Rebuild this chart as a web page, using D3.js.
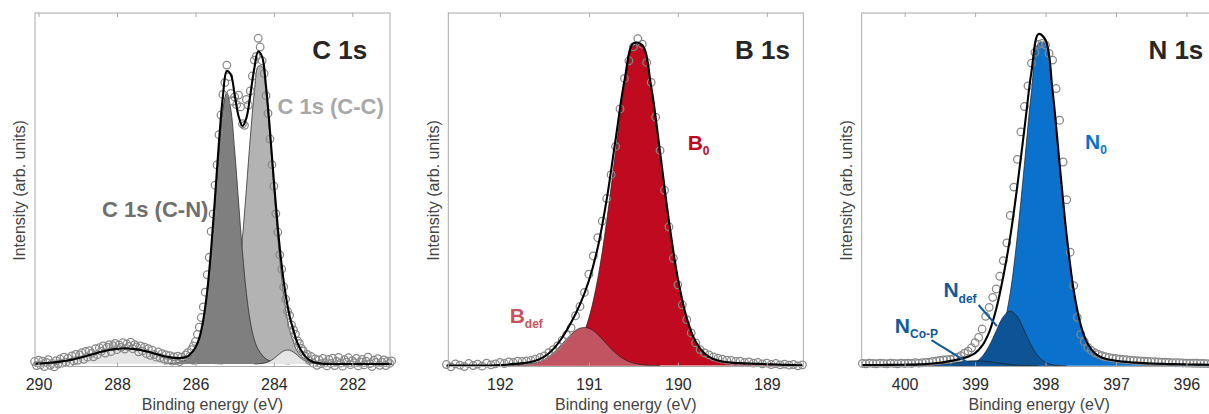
<!DOCTYPE html>
<html>
<head>
<meta charset="utf-8">
<script src="https://cdn.jsdelivr.net/npm/d3@7"></script>
<style>
  html, body { margin: 0; padding: 0; background: #fff; }
  svg { display: block; font-family: "Liberation Sans", Arial, Helvetica, sans-serif; }
</style>
</head>
<body>
<svg id="chart" width="1209" height="414"></svg>
<script>
// ---------------------------------------------------------------
// Measured XPS spectra: one value every DATA_STEP eV, starting at
// the given binding energy and going down in energy.
// ---------------------------------------------------------------
const DATA_STEP = 0.05;
const FIT_STEP = 0.1;

const c1sStart = 290.10;
const c1sCounts = [
  0.8, -0.5, 1.2, -0.3, 0.9, -0.8, 0.5, 1.4, -0.4, 0.2,
  -0.9, 1.1, 0.0, 1.6, 0.3, 2.2, 0.6, 1.9, 0.4, 2.6,
  1.0, 3.1, 1.2, 2.9, 3.6, 1.5, 4.0, 2.2, 4.3, 3.4,
  2.3, 4.9, 3.0, 5.2, 4.1, 5.8, 3.5, 5.4, 6.2, 4.0,
  5.9, 6.6, 4.6, 6.1, 5.3, 6.8, 4.8, 6.4, 5.6, 7.0,
  4.9, 6.2, 5.5, 3.9, 5.8, 4.2, 5.4, 3.3, 4.9, 2.8,
  4.4, 3.0, 2.2, 3.9, 2.0, 3.3, 1.6, 2.9, 1.4, 2.7,
  0.9, 2.3, 1.1, 2.5, 0.8, 2.2, 1.3, 2.9, 3.6, 2.4,
  4.6, 5.8, 7.2, 9.5, 11.8, 14.9, 18.3, 23.0, 28.6, 34.2,
  42.5, 48.1, 57.3, 63.8, 73.5, 79.8, 86.4, 90.2, 95.8, 92.1,
  86.7, 84.2, 85.6, 83.1, 86.2, 82.4, 77.0, 76.5, 84.8, 83.0,
  87.5, 92.3, 97.4, 98.6, 104.4, 101.6, 97.2, 93.1, 86.0, 80.3,
  72.1, 63.9, 57.0, 48.2, 42.3, 35.0, 30.4, 24.7, 20.8, 16.9,
  15.6, 12.5, 10.9, 9.6, 7.4, 6.6, 5.0, 4.2, 2.5, 3.1,
  1.2, 2.4, 0.3, 1.6, -0.4, 1.3, 0.1, 1.8, 0.4, -0.6,
  1.5, 0.2, 1.9, -0.5, 0.8, 2.1, 0.3, -0.7, 1.4, 0.6,
  2.0, -0.2, 1.1, 0.4, 1.8, -0.6, 0.7, 1.5, -0.3, 0.9,
  2.2, 0.1, -0.8, 1.2, 0.5, 1.7, -0.4, 0.6, 1.3, -0.5,
  0.9, 0.2, 1.0
];

const b1sStart = 192.60;
const b1sCounts = [
  0.3, -0.4, 0.5, 0.1, -0.3, 0.6, 0.0, 0.4, -0.2, 0.7,
  0.2, 0.5, 0.9, 0.6, 1.1, 0.9, 1.3, 1.2, 1.4, 1.5,
  1.9, 2.4, 2.9, 3.9, 4.8, 6.0, 7.6, 9.2, 11.3, 15.0,
  17.8, 22.0, 27.5, 33.0, 38.5, 43.5, 50.3, 57.5, 66.0, 77.3,
  86.5, 91.8, 96.0, 98.5, 96.8, 91.3, 85.3, 74.8, 64.8, 52.8,
  41.8, 32.3, 24.3, 18.3, 13.8, 9.8, 6.8, 4.8, 3.8, 3.2,
  2.6, 2.2, 1.9, 1.6, 1.5, 1.2, 1.3, 0.9, 1.1, 0.7,
  0.9, 0.5, 0.7, 0.3, 0.6, 0.2, 0.4, 0.1, 0.3, -0.1,
  0.2
];

const n1sStart = 400.60;
const n1sCounts = [
  0.7, 0.6, 0.8, 0.7, 0.6, 0.8, 0.7, 0.6, 0.8, 0.7,
  0.6, 0.8, 0.7, 0.8, 0.7, 0.9, 0.8, 0.9, 1.0, 1.1,
  1.3, 1.45, 1.6, 1.75, 1.85, 1.9, 2.2, 2.6, 3.0, 3.8,
  4.4, 5.4, 6.9, 8.5, 11.0, 14.8, 17.5, 20.5, 23.0, 26.8,
  31.5, 36.8, 45.0, 53.5, 61.8, 70.0, 77.6, 83.8, 90.6, 93.8,
  96.2, 96.5, 96.0, 93.5, 91.5, 83.0, 73.5, 61.0, 49.7, 34.0,
  24.0, 14.5, 9.4, 7.2, 5.5, 4.6, 3.9, 3.4, 3.0, 2.7,
  2.5, 2.3, 2.2, 2.0, 1.9, 1.8, 1.7, 1.6, 1.5, 1.45,
  1.4, 1.3, 1.25, 1.2, 1.15, 1.1, 1.05, 1.0, 0.95, 0.9,
  0.9, 0.85, 0.8, 0.8, 0.75, 0.75, 0.7, 0.7, 0.65, 0.65,
  0.6
];

// ---------------------------------------------------------------
// Fitted components, one value every FIT_STEP eV from the start energy.
// ---------------------------------------------------------------
const c1sSatStart = 290.1;   // shake-up satellite
const c1sSatFit = [
  0.13, 0.17, 0.24, 0.31, 0.41, 0.53, 0.67, 0.85, 1.05, 1.29,
  1.55, 1.84, 2.16, 2.5, 2.85, 3.21, 3.56, 3.9, 4.21, 4.48,
  4.70, 4.86, 4.97, 5.0, 4.97, 4.86, 4.70, 4.48, 4.21, 3.90,
  3.56, 3.21, 2.85, 2.5, 2.16, 1.84, 1.55, 1.29, 1.05, 0.85,
  0.67, 0.53, 0.41, 0.31, 0.24, 0.17, 0.13, 0.09, 0
];
const c1sCNStart = 286.8;    // C 1s (C-N)
const c1sCNFit = [
  0, 0.1, 0.2, 0.35, 0.6, 1.0, 1.6, 2.9, 4.7, 7.8,
  13.5, 22.6, 35.7, 51.9, 68.6, 81.8, 87.0, 81.8, 68.6, 51.9,
  35.7, 22.6, 13.5, 7.8, 4.7, 2.9, 1.6, 1.0, 0.6, 0.35,
  0.2, 0.1, 0
];
const c1sCCStart = 286.1;    // C 1s (C-C)
const c1sCCFit = [
  0, 0.05, 0.15, 0.3, 0.5, 0.9, 1.5, 2.5, 4.0, 6.9,
  11.0, 17.7, 27.5, 40.6, 56.3, 72.8, 86.9, 95.4, 95.4, 86.9,
  72.8, 56.3, 40.6, 27.5, 17.7, 11.0, 6.9, 4.0, 2.5, 1.5,
  0.9, 0.5, 0.3, 0.15, 0.05, 0
];
const c1sLowStart = 284.5;   // low binding energy shoulder
const c1sLowFit = [
  0, 0.06, 0.17, 0.44, 0.95, 1.75, 2.8, 3.8, 4.4, 4.4,
  3.8, 2.8, 1.75, 0.95, 0.44, 0.17, 0.06, 0
];

const b1sMainStart = 192.1;  // B0
const b1sMainFit = [
  0, 0.1, 0.3, 0.5, 0.6, 0.72, 0.87, 1.2, 1.95, 3.6, 7.2,
  14.3, 26.2, 43.5, 64.3, 84.0, 96.3, 96.3, 84.0, 64.3, 43.5,
  26.2, 14.3, 7.2, 3.6, 1.95, 1.2, 0.87, 0.72, 0.6, 0.5,
  0.4, 0.3, 0.2, 0.1, 0.05
];
const b1sDefStart = 191.9;   // B_def
const b1sDefFit = [
  0, 0.07, 0.24, 0.72, 1.80, 3.74, 6.49, 9.36, 11.24, 11.24,
  9.36, 6.49, 3.74, 1.80, 0.72, 0.24, 0.07, 0
];

const n1sMainStart = 400.6;  // N0
const n1sMainFit = [
  0.2, 0.22, 0.24, 0.26, 0.28, 0.3, 0.33, 0.36, 0.4, 0.45,
  0.5, 0.56, 0.63, 0.72, 0.84, 1.0, 1.3, 1.8, 2.9, 5.6,
  11.4, 22.0, 39.0, 60.3, 82.0, 96.5, 96.5, 82.0, 60.3, 39.0,
  22.6, 12.2, 6.5, 3.75, 2.48, 1.86, 1.49, 1.26, 1.07, 0.93,
  0.81, 0.71, 0.63, 0.56, 0.5, 0.45, 0.41, 0.38, 0.34, 0.32,
  0.29
];
const n1sDefStart = 399.3;   // N_def
const n1sDefFit = [
  0, 0.07, 0.3, 1.0, 2.8, 6.0, 10.5, 14.7, 16.4, 14.7,
  10.5, 6.0, 2.8, 1.0, 0.3, 0.07, 0
];
const n1sCoPStart = 399.9;   // N_Co-P
const n1sCoPFit = [
  0, 0.04, 0.09, 0.2, 0.36, 0.61, 0.9, 1.2, 1.42, 1.5,
  1.42, 1.2, 0.9, 0.61, 0.36, 0.2, 0.09, 0.04, 0
];

// Axis ranges and tick labels
const c1sRange = [290.09, 281.04];
const b1sRange = [192.58, 188.59];
const n1sRange = [400.61, 395.57];
const c1sTicks = [290, 288, 286, 284, 282];
const b1sTicks = [192, 191, 190, 189];
const n1sTicks = [400, 399, 398, 397, 396];

// ---------------------------------------------------------------
// Helpers
// ---------------------------------------------------------------
function series(start, step, values) {
  return values.map((v, i) => ({ e: +(start - i * step).toFixed(2), v }));
}

// The fit envelope is the sum of all components on the common 0.1 eV grid.
function envelope(range, comps) {
  const sums = new Map();
  comps.forEach(c => c.points.forEach(p => {
    const k = Math.round(p.e * 10);
    sums.set(k, (sums.get(k) || 0) + p.v);
  }));
  const hi = Math.round(Math.max(...range) * 10);
  const lo = Math.round(Math.min(...range) * 10);
  const out = [];
  for (let k = hi; k >= lo; k--) out.push({ e: k / 10, v: sums.get(k) || 0 });
  return out;
}

const svg = d3.select("#chart");
const TOP = 13, BOTTOM = 366.5, PW = 355;
const FONT = '"Liberation Sans", Arial, Helvetica, sans-serif';

function drawPanel(p) {
  const g = svg.append("g");
  const x = d3.scaleLinear().domain(p.range).range([p.left, p.left + PW]);
  const y = d3.scaleLinear().domain(p.yDomain).range([BOTTOM, TOP]);

  const area = d3.area().curve(d3.curveCatmullRom)
    .x(d => x(d.e)).y0(y(0)).y1(d => y(Math.max(0, d.v)));
  const edge = d3.line().curve(d3.curveCatmullRom)
    .x(d => x(d.e)).y(d => y(Math.max(0, d.v)));

  // component fills with thin outlines
  p.components.forEach(c => {
    g.append("path").datum(c.points).attr("d", area).attr("fill", c.color);
    g.append("path").datum(c.points).attr("d", edge)
      .attr("fill", "none").attr("stroke", "#1e1e1e").attr("stroke-width", 0.7);
  });

  // measured points
  g.append("g").selectAll("circle").data(p.points).join("circle")
    .attr("cx", d => x(d.e)).attr("cy", d => y(d.v)).attr("r", 3.8)
    .attr("fill", "none").attr("stroke", "#888").attr("stroke-width", 1.25);

  // fit envelope
  g.append("path").datum(envelope(p.range, p.components)).attr("d", edge)
    .attr("fill", "none").attr("stroke", "#000").attr("stroke-width", 2.1)
    .attr("stroke-linejoin", "round");

  // frame
  g.append("rect").attr("x", p.left).attr("y", TOP)
    .attr("width", PW).attr("height", BOTTOM - TOP)
    .attr("fill", "none").attr("stroke", "#a8a8a8").attr("stroke-width", 1);

  const axB = d3.axisBottom(x).tickValues(p.ticks).tickFormat(d3.format("d"))
    .tickSizeInner(-4).tickSizeOuter(0).tickPadding(12.6);
  const gb = g.append("g").attr("transform", `translate(0,${BOTTOM})`).call(axB);
  const axT = d3.axisTop(x).tickValues(p.ticks).tickFormat("")
    .tickSizeInner(-4).tickSizeOuter(0);
  const gt = g.append("g").attr("transform", `translate(0,${TOP})`).call(axT);
  [gb, gt].forEach(a => {
    a.select(".domain").remove();
    a.selectAll(".tick line").attr("stroke", "#a8a8a8");
  });
  gb.selectAll(".tick text").attr("font-family", FONT).attr("font-size", 16)
    .attr("fill", "#2b2b2b");

  // axis titles
  g.append("text").attr("x", p.left + PW / 2).attr("y", 409.5)
    .attr("text-anchor", "middle").attr("font-size", 16).attr("fill", "#444")
    .text("Binding energy (eV)");
  g.append("text").attr("transform", `translate(${p.left - 9.8},190.5) rotate(-90)`)
    .attr("text-anchor", "middle").attr("font-size", 16).attr("fill", "#444")
    .text("Intensity (arb. units)");

  // panel title
  g.append("text").attr("x", x(p.title.e)).attr("y", y(p.title.v))
    .attr("text-anchor", "end").attr("font-size", 26).attr("font-weight", "bold")
    .attr("fill", "#262626").text(p.title.text);

  // peak labels
  p.labels.forEach(l => {
    const t = g.append("text").attr("x", x(l.e)).attr("y", y(l.v))
      .attr("text-anchor", l.anchor || "start").attr("font-weight", "bold")
      .attr("font-size", l.size).attr("fill", l.color);
    t.append("tspan").text(l.text);
    if (l.sub) t.append("tspan").attr("font-size", 12).attr("dy", l.subDy).text(l.sub);
  });
  (p.leaders || []).forEach(l => {
    g.append("line").attr("x1", x(l.e1)).attr("y1", y(l.v1))
      .attr("x2", x(l.e2)).attr("y2", y(l.v2))
      .attr("stroke", l.color).attr("stroke-width", 2);
  });
}

// ---------------------------------------------------------------
// Panels
// ---------------------------------------------------------------
drawPanel({
  left: 35, range: c1sRange, yDomain: [-0.8, 112.5], ticks: c1sTicks,
  points: series(c1sStart, DATA_STEP, c1sCounts),
  components: [
    { points: series(c1sSatStart, FIT_STEP, c1sSatFit), color: "#e6e6e6" },
    { points: series(c1sCCStart, FIT_STEP, c1sCCFit), color: "#b3b3b3" },
    { points: series(c1sCNStart, FIT_STEP, c1sCNFit), color: "#7f7f7f" },
    { points: series(c1sLowStart, FIT_STEP, c1sLowFit), color: "#e6e6e6" }
  ],
  title: { text: "C 1s", e: 281.62, v: 97.9 },
  labels: [
    { text: "C 1s (C-C)", e: 283.91, v: 80.1, size: 22, color: "#a8a8a8" },
    { text: "C 1s (C-N)", e: 285.67, v: 47.1, size: 22, color: "#6f6f6f", anchor: "end" }
  ]
});

drawPanel({
  left: 448.3, range: b1sRange, yDomain: [-0.3, 106.2], ticks: b1sTicks,
  points: series(b1sStart, DATA_STEP, b1sCounts),
  components: [
    { points: series(b1sMainStart, FIT_STEP, b1sMainFit), color: "#c00a1f" },
    { points: series(b1sDefStart, FIT_STEP, b1sDefFit), color: "#c25461" }
  ],
  title: { text: "B 1s", e: 188.74, v: 92.4 },
  labels: [
    { text: "B", sub: "0", subDy: 5, e: 189.89, v: 64.9, size: 21, color: "#c00a1f" },
    { text: "B", sub: "def", subDy: 5, e: 191.89, v: 12.7, size: 21, color: "#c85461" }
  ]
});

drawPanel({
  left: 861.7, range: n1sRange, yDomain: [-0.21, 105.6], ticks: n1sTicks,
  points: series(n1sStart, DATA_STEP, n1sCounts),
  components: [
    { points: series(n1sMainStart, FIT_STEP, n1sMainFit), color: "#0a72cd" },
    { points: series(n1sDefStart, FIT_STEP, n1sDefFit), color: "#0c5495" },
    { points: series(n1sCoPStart, FIT_STEP, n1sCoPFit), color: "#0c5092" }
  ],
  title: { text: "N 1s", e: 395.76, v: 91.8 },
  labels: [
    { text: "N", sub: "0", subDy: 5, e: 397.44, v: 64.9, size: 21, color: "#0a72cd" },
    { text: "N", sub: "def", subDy: 6.5, e: 399.45, v: 20.7, size: 21, color: "#10599b" },
    { text: "N", sub: "Co-P", subDy: 5, e: 400.14, v: 9.7, size: 21, color: "#10599b" }
  ],
  leaders: [
    { e1: 398.95, v1: 18.2, e2: 398.69, v2: 11.9, color: "#10599b" },
    { e1: 399.62, v1: 7.7, e2: 399.12, v2: 1.2, color: "#10599b" }
  ]
});
</script>
</body>
</html>
